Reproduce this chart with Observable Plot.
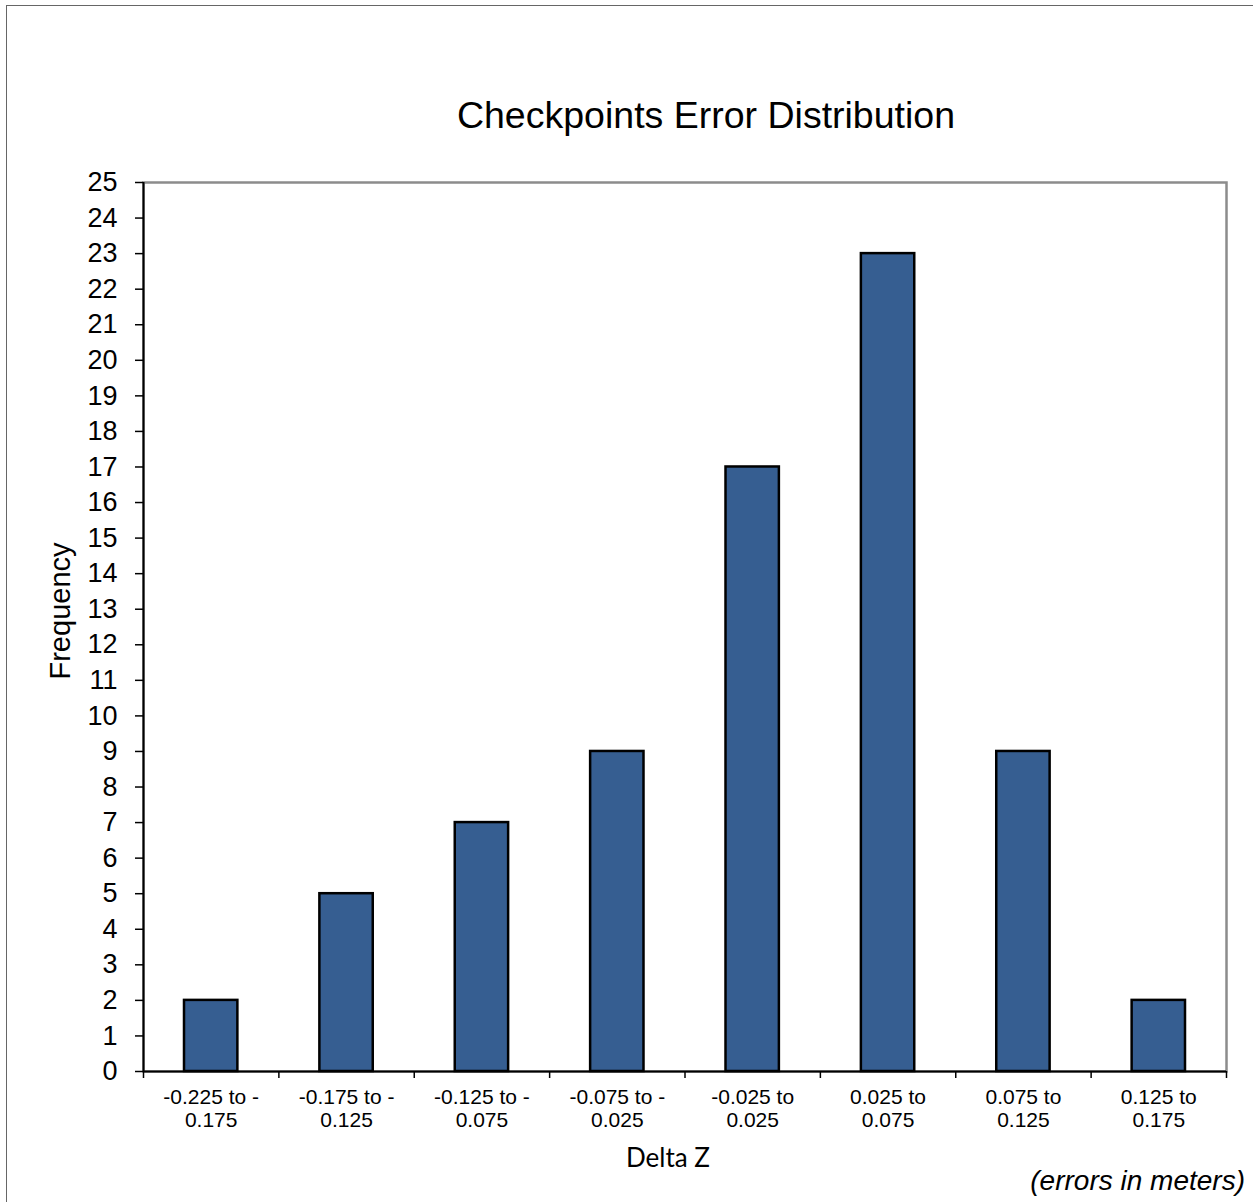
<!DOCTYPE html>
<html>
<head>
<meta charset="utf-8">
<script src="https://cdn.jsdelivr.net/npm/d3@7"></script>
<script src="https://cdn.jsdelivr.net/npm/@observablehq/plot@0.6"></script>
<style>
  html, body { margin: 0; padding: 0; background: #fff; overflow: hidden; }
  #page { position: relative; width: 1253px; height: 1202px; overflow: hidden;
          font-family: "Liberation Sans", Arial, sans-serif; color: #000; }
  #border { position: absolute; left: 6px; top: 5px; width: 1400px; height: 1400px;
            border: 1.5px solid #666; box-sizing: border-box; }
  #title { position: absolute; top: 95px; left: 0; width: 1412px; text-align: center;
           font-size: 37.5px; line-height: 40px; white-space: nowrap; }
  #chart { position: absolute; top: 150px; left: 0; }
  #xlabel { position: absolute; top: 1142px; left: 0; width: 1336px; text-align: center;
            font-family: Lato, "Open Sans", sans-serif; font-size: 26px; line-height: 30px; }
  #caption { position: absolute; top: 1166px; right: 8px; font-style: italic;
             font-size: 28px; line-height: 30px; white-space: nowrap; }
</style>
</head>
<body>
<div id="page">
  <div id="border"></div>
  <div id="title">Checkpoints Error Distribution</div>
  <div id="chart"></div>
  <div id="xlabel">Delta Z</div>
  <div id="caption">(errors in meters)</div>
</div>
<script>
// Histogram bins of checkpoint elevation error (Delta Z, metres)
const categories = [
  "-0.225 to -\n0.175",
  "-0.175 to -\n0.125",
  "-0.125 to -\n0.075",
  "-0.075 to -\n0.025",
  "-0.025 to\n0.025",
  "0.025 to\n0.075",
  "0.075 to\n0.125",
  "0.125 to\n0.175"
];
const frequency = [2, 5, 7, 9, 17, 23, 9, 2];
const yTicks = d3.range(0, 26);
const yLabel = "Frequency";

const bins = categories.map((label, i) => ({bin: i, label, count: frequency[i]}));

const chart = Plot.plot({
  width: 1253,
  height: 1052,
  marginTop: 32,
  marginBottom: 131,
  marginLeft: 143,
  marginRight: 27,
  style: {fontFamily: "'Liberation Sans', Arial, sans-serif", color: "#000", background: "transparent"},
  x: {type: "linear", domain: [0, categories.length]},
  y: {domain: [0, 25]},
  marks: [
    Plot.frame({stroke: "#8c8c8c", strokeWidth: 2.5}),
    Plot.rect(bins, {
      x1: "bin",
      x2: d => d.bin + 1,
      y1: 0,
      y2: "count",
      insetLeft: 41,
      insetRight: 41,
      fill: "#365e91",
      stroke: "#000",
      strokeWidth: 2.5
    }),
    Plot.axisY({
      ticks: yTicks,
      tickSize: 8,
      tickPadding: 18,
      strokeWidth: 1.5,
      fontSize: 27,
      label: null
    }),
    // rotated y-axis title
    Plot.text([yLabel], {
      frameAnchor: "left",
      rotate: -90,
      dx: -83,
      dy: -16,
      fontSize: 29,
      lineAnchor: "middle",
      textAnchor: "middle"
    }),
    // tick marks on the bin boundaries
    Plot.axisX({
      ticks: d3.range(0, categories.length + 1),
      tickSize: 7,
      strokeWidth: 1.5,
      tickFormat: () => "",
      label: null
    }),
    // bin labels centred under each bar
    Plot.axisX({
      ticks: categories.map((c, i) => i + 0.5),
      tickSize: 0,
      tickPadding: 15,
      tickFormat: v => categories[Math.floor(v)],
      fontSize: 21,
      lineHeight: 1.14,
      label: null
    }),
    Plot.ruleX([0], {stroke: "#000", strokeWidth: 2}),
    Plot.ruleY([0], {stroke: "#000", strokeWidth: 2})
  ]
});

document.getElementById("chart").appendChild(chart);
</script>
</body>
</html>
